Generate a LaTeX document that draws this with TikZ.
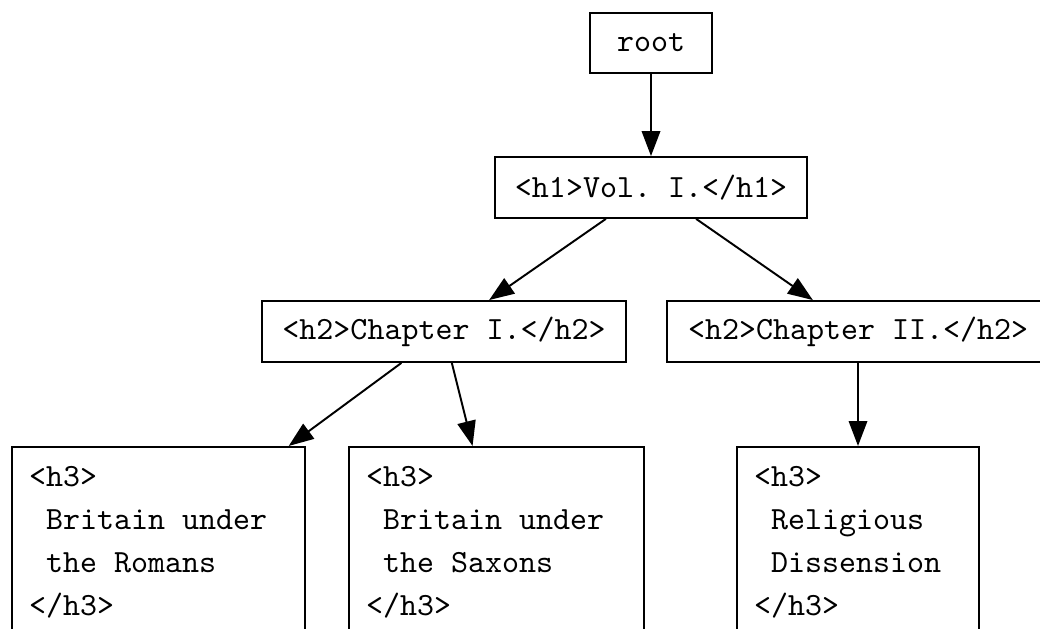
\documentclass[tikz,border=0pt]{standalone}
\usepackage{fontspec}
\setmonofont{Latin Modern Mono}[WordSpace={1,0,0}]
\usepackage{tikz}
\usetikzlibrary{arrows.meta,positioning}
\frenchspacing

\begin{document}
\begin{tikzpicture}[
        x=0.3088pt, y=-0.3088pt,
        box/.style={draw, line width=0.6pt, font=\ttfamily, inner xsep=6.3pt, minimum height=18.8pt},
        h3box/.style={box, inner xsep=5.3pt, align=flush left, minimum height=58.7pt, font=\ttfamily\fontsize{10}{13.3}\selectfont},
        link/.style={-{Triangle[length=7.7pt,width=5.7pt]}, line width=0.6pt}
    ]
    \clip (0,0) rectangle (1040,629);
    \useasboundingbox (0,0) rectangle (1040,629);

    \node[box, minimum width=37.7pt] (root) at (651,43) {root};
    \node[box] (vol) at (651,187.5) {<h1>Vol. I.</h1>};
    \node[box] (chI) at (444,331.5) {<h2>Chapter I.</h2>};
    \node[box, minimum width=117.96pt] (chII) at (858,331.5) {<h2>Chapter II.</h2>};

    \node[h3box, text width=79.9pt] (romans) at (158.5,542) {<h3>\\ ~Britain under\\ ~the Romans\\ </h3>};
    \node[h3box, text width=80.5pt] (saxons) at (496.5,542) {<h3>\\ ~Britain under\\ ~the Saxons\\ </h3>};
    \node[h3box, text width=64.13pt] (dissension) at (858,542) {<h3>\\ ~Religious\\ ~Dissension\\ </h3>};

    \draw[link] (root) -- (vol);
    \draw[link] (vol) -- (chI);
    \draw[link] (vol) -- (chII);
    \draw[link] (chI) -- (romans);
    \draw[link] (chI) -- (saxons);
    \draw[link] (chII) -- (dissension);
\end{tikzpicture}
\end{document}
